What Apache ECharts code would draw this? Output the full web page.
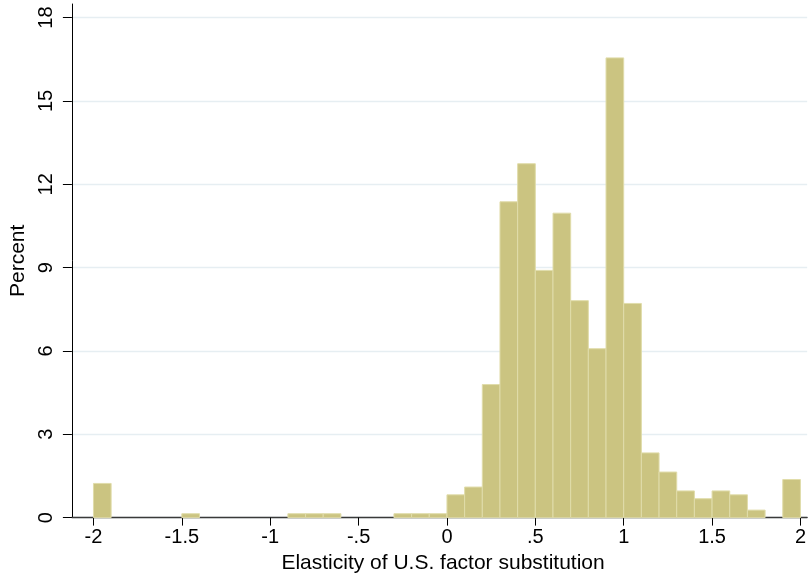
<!DOCTYPE html>
<html>
<head>
<meta charset="utf-8">
<script src="https://cdn.jsdelivr.net/npm/echarts@6/dist/echarts.min.js"></script>
<style>
html,body{margin:0;padding:0;background:#fff;}
#chart{width:809px;height:581px;}
</style>
</head>
<body>
<div id="chart"></div>
<script>
// Histogram bins (lower edges), bin width and percent in each bin
var binStarts = [-2.0,-1.9,-1.8,-1.7,-1.6,-1.5,-1.4,-1.3,-1.2,-1.1,
                 -1.0,-0.9,-0.8,-0.7,-0.6,-0.5,-0.4,-0.3,-0.2,-0.1,
                  0.0, 0.1, 0.2, 0.3, 0.4, 0.5, 0.6, 0.7, 0.8, 0.9,
                  1.0, 1.1, 1.2, 1.3, 1.4, 1.5, 1.6, 1.7, 1.8, 1.9];
var binWidth = 0.1;
var percents = [1.23,0,0,0,0,0.14,0,0,0,0,
                0,0.14,0.14,0.14,0,0,0,0.14,0.14,0.14,
                0.82,1.10,4.79,11.37,12.74,8.90,10.96,7.81,6.08,16.55,
                7.71,2.33,1.64,0.96,0.68,0.96,0.82,0.27,0,1.37];

var xTickValues = [-2,-1.5,-1,-0.5,0,0.5,1,1.5,2];
var xTickLabels = ['-2','-1.5','-1','-.5','0','.5','1','1.5','2'];
var yTickValues = [0,3,6,9,12,15,18];
var yTickLabels = ['0','3','6','9','12','15','18'];

var xTitle = 'Elasticity of U.S. factor substitution';
var yTitle = 'Percent';

var data = [];
for (var i = 0; i < binStarts.length; i++) {
  if (percents[i] > 0) data.push([binStarts[i], binStarts[i] + binWidth, percents[i]]);
}

var FONT = 'Liberation Sans, Arial, sans-serif';
var chart = echarts.init(document.getElementById('chart'), null, {renderer: 'canvas'});
chart.setOption({
  animation: false,
  backgroundColor: '#ffffff',
  grid: {left: 71, right: 0, top: 4, bottom: 63.4, containLabel: false},
  xAxis: {
    type: 'value',
    min: -2.122, max: 2.038,
    name: xTitle,
    nameLocation: 'middle',
    nameGap: 34,
    nameTextStyle: {fontFamily: FONT, fontSize: 21, color: '#000', padding: [0, 0, 0, 7]},
    axisLine: {show: true, onZero: false, lineStyle: {color: '#3a3a3a', width: 1.3}},
    axisTick: {show: true, length: 8, customValues: xTickValues, lineStyle: {color: '#000', width: 1}},
    axisLabel: {
      customValues: xTickValues,
      margin: 10,
      fontFamily: FONT, fontSize: 20, color: '#000',
      formatter: function (v) {
        for (var k = 0; k < xTickValues.length; k++) if (Math.abs(xTickValues[k] - v) < 1e-9) return xTickLabels[k];
        return '';
      }
    },
    splitLine: {show: false}
  },
  yAxis: {
    type: 'value',
    min: 0, max: 18.49,
    name: yTitle,
    nameLocation: 'middle',
    nameGap: 40,
    nameTextStyle: {fontFamily: FONT, fontSize: 21, color: '#000'},
    axisLine: {show: true, onZero: false, lineStyle: {color: '#000', width: 1}},
    axisTick: {show: true, length: 9, customValues: yTickValues, lineStyle: {color: '#000', width: 1}},
    axisLabel: {
      customValues: yTickValues,
      rotate: 90,
      margin: 15,
      fontFamily: FONT, fontSize: 20, color: '#000',
      formatter: function (v) {
        for (var k = 0; k < yTickValues.length; k++) if (Math.abs(yTickValues[k] - v) < 1e-9) return yTickLabels[k];
        return '';
      }
    },
    splitLine: {show: true, lineStyle: {color: '#e6eef2', width: 1.3}}
  },
  series: [{
    type: 'custom',
    data: data,
    encode: {x: [0, 1], y: 2},
    renderItem: function (params, api) {
      var p0 = api.coord([api.value(0), 0]);
      var p1 = api.coord([api.value(1), api.value(2)]);
      return {
        type: 'rect',
        shape: {x: p0[0], y: p1[1], width: p1[0] - p0[0], height: p0[1] - p1[1]},
        style: {fill: '#cbc481', stroke: '#e0dcaa', lineWidth: 1}
      };
    },
    z: 2
  }]
});
</script>
</body>
</html>
